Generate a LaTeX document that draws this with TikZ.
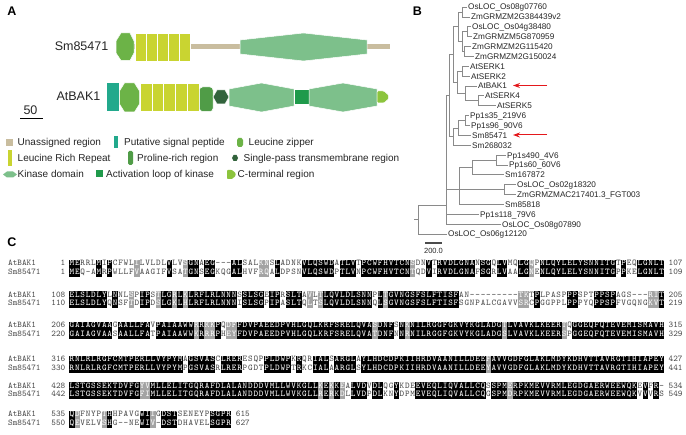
\documentclass[tikz,border=0pt]{standalone}
\usepackage{fontspec}
\setmainfont{Liberation Sans}
\usetikzlibrary{arrows.meta}

\definecolor{tanC}{HTML}{C9BD9F}
\definecolor{lrrC}{HTML}{C9D431}
\definecolor{lzC}{HTML}{6CB347}
\definecolor{kinC}{HTML}{7DC08B}
\definecolor{spC}{HTML}{22A98C}
\definecolor{proC}{HTML}{509C47}
\definecolor{tmC}{HTML}{32633C}
\definecolor{alC}{HTML}{1F9A4B}
\definecolor{ctC}{HTML}{8CC43D}
\definecolor{alnGray}{HTML}{A3A3A3}
\definecolor{alnTxt}{HTML}{4A4A4A}
\definecolor{txtC}{HTML}{262626}
\definecolor{brC}{HTML}{8A8A8A}
\definecolor{arrC}{HTML}{E4181C}

\newcommand\alnfont{\ttfamily\fontsize{8.8}{8.8}\selectfont}

\ExplSyntaxOn
\int_new:N \l__aln_class_int
\str_new:N \l__aln_a_str
\str_new:N \l__aln_b_str
\dim_new:N \l__aln_cw_dim
\dim_set:Nn \l__aln_cw_dim {5.41pt}
\clist_const:Nn \c__aln_groups_clist {ILMV,FYW,KRH,DE,NQ,ST}
\cs_new_protected:Npn \__aln_classify:nn #1#2
  {
    \int_set:Nn \l__aln_class_int {0}
    \str_if_eq:nnTF {#1} {#2}
      { \str_if_eq:nnF {#1} {-} { \int_set:Nn \l__aln_class_int {2} } }
      {
        \clist_map_inline:Nn \c__aln_groups_clist
          {
            \str_if_in:nnT {##1} {#1}
              { \str_if_in:nnT {##1} {#2} { \int_set:Nn \l__aln_class_int {1} } }
          }
      }
  }
\cs_new_protected:Npn \__aln_put:n #1
  {
    \int_case:nn { \l__aln_class_int }
      {
        {0} { \makebox[\l__aln_cw_dim]{\color{alnTxt}#1} }
        {1} { \colorbox{alnGray}{\rule[-2.4pt]{0pt}{8.6pt}\makebox[\l__aln_cw_dim]{\color{white}#1}} }
        {2} { \colorbox{black}{\rule[-2.4pt]{0pt}{8.6pt}\makebox[\l__aln_cw_dim]{\color{white}#1}} }
      }
  }
\NewDocumentCommand \alnseq { m m }
  {
    \group_begin:
    \setlength{\fboxsep}{0pt}
    \str_set:Nn \l__aln_a_str {#1}
    \str_set:Nn \l__aln_b_str {#2}
    \int_step_inline:nn { \str_count:N \l__aln_a_str }
      {
        \exp_args:Nxx \__aln_classify:nn
          { \str_item:Nn \l__aln_a_str {##1} }
          { \str_item:Nn \l__aln_b_str {##1} }
        \exp_args:Nx \__aln_put:n { \str_item:Nn \l__aln_a_str {##1} }
      }
    \group_end:
  }
\ExplSyntaxOff

\newcommand\alnblock[8]{%
  \node[aname] (an#1) at (8,#2) {AtBAK1};
  \node[anum] (as#1) at (65.5,#2) {#5};
  \node[aseq] (aq#1) at (69,#2) {\alnseq{#3}{#4}};
  \node[aend] (ae#1) at ([xshift=4pt]aq#1.base east) {#6};
  \node[aname] (bn#1) at (8,#2+8.6) {Sm85471};
  \node[anum] (bs#1) at (65.5,#2+8.6) {#7};
  \node[aseq] (bq#1) at (69,#2+8.6) {\alnseq{#4}{#3}};
  \node[aend] (be#1) at ([xshift=4pt]bq#1.base east) {#8};
}

\begin{document}
\begin{tikzpicture}[x=1pt,y=-1pt,
  panel/.style={font=\fontsize{12.5}{12.5}\selectfont\bfseries, inner sep=0pt, text=black},
  dlabel/.style={font=\fontsize{12.5}{12.5}\selectfont, text=txtC, inner sep=0pt, text height=9pt, text depth=0pt, anchor=east},
  legtext/.style={font=\fontsize{10}{10}\selectfont, text=txtC, inner sep=0pt, text height=7.2pt, text depth=0pt, anchor=west},
  leaf/.style={font=\fontsize{8.2}{8.2}\selectfont, text=txtC, inner sep=0pt, text height=5.9pt, text depth=0pt, anchor=west},
  br/.style={draw=brC, line width=0.7pt},
  dom/.style={draw=white, line width=0.5pt},
  redarr/.style={draw=arrC, line width=1pt, -{Stealth[length=7pt,width=5pt]}},
  aname/.style={font=\alnfont, text=alnTxt, inner sep=0pt, anchor=base west},
  anum/.style={font=\alnfont, text=alnTxt, inner sep=0pt, anchor=base east},
  aend/.style={font=\alnfont, text=alnTxt, inner sep=0pt, anchor=base west},
  aseq/.style={font=\alnfont, inner sep=0pt, anchor=base west},
]
\useasboundingbox[fill=white] (0,0) rectangle (686,435);

% ---------- panel labels
\node[panel] (pA) at (12,11) {A};
\node[panel] (pB) at (417.5,11) {B};
\node[panel] (pC) at (12,242.5) {C};

% ---------- panel A: domains
\node[dlabel] (lsm) at (108.5,46.5) {Sm85471};
\node[dlabel] (lat) at (100.5,96.5) {AtBAK1};

\fill[tanC] (118,44.5) rectangle (390,49.5);
\path[fill=lzC, dom] (116,41) -- (121,33) -- (130,33) -- (134,41) -- (134,53) -- (130,60.5) -- (121,60.5) -- (116,53) -- cycle;
\foreach \i in {0,...,4} \path[fill=lrrC, dom] ({135+11*\i},33) rectangle ({146+11*\i},61);
\path[fill=kinC, dom] (240,40) -- (303.5,33) -- (367,40) -- (367,54) -- (303.5,61) -- (240,54) -- cycle;

\path[fill=spC] (107,83) rectangle (119,111);
\path[fill=lzC, dom] (119.5,91) -- (124.5,83) -- (134.5,83) -- (139.5,91) -- (139.5,104) -- (134.5,112) -- (124.5,112) -- (119.5,104) -- cycle;
\foreach \i in {0,...,4} \path[fill=lrrC, dom] ({140+11.8*\i},83) rectangle ({151.8+11.8*\i},111);
\path[fill=proC, dom, rounded corners=3pt] (199.5,87) rectangle (213,111.5);
\path[fill=tmC, dom] (213,97) -- (217,90) -- (225,90) -- (229,97) -- (225,104) -- (217,104) -- cycle;
\path[fill=kinC, dom] (229,89) -- (261.5,83) -- (294,89) -- (294,106) -- (261.5,112) -- (229,106) -- cycle;
\path[fill=alC, dom] (294,89) rectangle (309,104);
\path[fill=kinC, dom] (309,89) -- (343,83) -- (377,89) -- (377,106) -- (343,112) -- (309,106) -- cycle;
\path[fill=ctC, dom, rounded corners=1pt] (377,91) -- (384,91) -- (388.5,95) -- (388.5,99) -- (384,103) -- (377,103) -- cycle;

% scale 50
\node[dlabel, anchor=center] (s50) at (30.5,110.5) {50};
\coordinate (sb1) at (20,118.5);
\coordinate (sb2) at (43,118.5);
\draw[line width=1.8pt, black] (sb1) -- (sb2);

% legend
\fill[tanC] (6,139) rectangle (13,146);
\node[legtext] (lg1) at (17.5,142) {Unassigned region};
\fill[spC] (114,136) rectangle (118,148);
\node[legtext] (lg2) at (124,142) {Putative signal peptide};
\fill[lzC] (237,140) -- (238.5,138) -- (241.5,138) -- (243,140) -- (243,145) -- (241.5,147) -- (238.5,147) -- (237,145) -- cycle;
\node[legtext] (lg3) at (248.5,142) {Leucine zipper};

\fill[lrrC] (8,150) rectangle (12,166);
\node[legtext] (lg4) at (17.5,158) {Leucine Rich Repeat};
\fill[proC, rounded corners=1.5pt] (128,151) rectangle (133,165);
\node[legtext] (lg5) at (137,158) {Proline-rich region};
\fill[tmC] (232,158) -- (233.5,155) -- (236.5,155) -- (238,158) -- (236.5,161) -- (233.5,161) -- cycle;
\node[legtext] (lg6) at (243.5,158) {Single-pass transmembrane region};

\fill[kinC] (3,174.5) -- (7,171.5) -- (13,171.5) -- (17,174.5) -- (13,177.5) -- (7,177.5) -- cycle;
\node[legtext] (lg7) at (17.5,174) {Kinase domain};
\fill[alC] (96,170.5) rectangle (102.5,177.5);
\node[legtext] (lg8) at (106,174) {Activation loop of kinase};
\fill[ctC, rounded corners=0.8pt] (227,170) -- (232,170) -- (235.5,173) -- (235.5,176) -- (232,179) -- (227,179) -- cycle;
\node[legtext] (lg9) at (237.5,174) {C-terminal region};

% ---------- panel B: tree
\node[leaf] (l1) at (468,7) {OsLOC\_Os08g07760};
\node[leaf] (l2) at (471,16.9) {ZmGRMZM2G384439v2};
\node[leaf] (l3) at (472,26.7) {OsLOC\_Os04g38480};
\node[leaf] (l4) at (473,36.6) {ZmGRMZM5G870959};
\node[leaf] (l5) at (472,46.5) {ZmGRMZM2G115420};
\node[leaf] (l6) at (475,56.4) {ZmGRMZM2G150024};
\node[leaf] (l7) at (470,66.2) {AtSERK1};
\node[leaf] (l8) at (471,76.1) {AtSERK2};
\node[leaf] (l9) at (478,86) {AtBAK1};
\node[leaf] (l10) at (485,95.8) {AtSERK4};
\node[leaf] (l11) at (497,105.7) {AtSERK5};
\node[leaf] (l12) at (470,115.6) {Pp1s35\_219V6};
\node[leaf] (l13) at (471,125.4) {Pp1s96\_90V6};
\node[leaf] (l14) at (472,135.3) {Sm85471};
\node[leaf] (l15) at (472,145.2) {Sm268032};
\node[leaf] (l16) at (507,155.1) {Pp1s490\_4V6};
\node[leaf] (l17) at (509,164.9) {Pp1s60\_60V6};
\node[leaf] (l18) at (505,174.8) {Sm167872};
\node[leaf] (l19) at (517,184.7) {OsLOC\_Os02g18320};
\node[leaf] (l20) at (517,194.5) {ZmGRMZMAC217401.3\_FGT003};
\node[leaf] (l21) at (505,204.4) {Sm85818};
\node[leaf] (l22) at (480,214.3) {Pp1s118\_79V6};
\node[leaf] (l23) at (502,224.1) {OsLOC\_Os08g07890};
\node[leaf] (l24) at (448,234) {OsLOC\_Os06g12120};

\coordinate (n12) at (462,11.95);
\coordinate (n34) at (467,31.65);
\coordinate (n56) at (464,51.45);
\coordinate (n36) at (462,41.55);
\coordinate (ngr) at (458,26.75);
\coordinate (ns12) at (462,71.15);
\coordinate (ns45) at (478,100.75);
\coordinate (nb) at (465,93.4);
\coordinate (nser) at (457,82.3);
\coordinate (nang) at (453,54.5);
\coordinate (np12) at (465,120.5);
\coordinate (np14) at (458,127.9);
\coordinate (nbr) at (453,136.6);
\coordinate (nup) at (449,95.5);
\coordinate (nm1) at (496,160);
\coordinate (nm2) at (472,167.4);
\coordinate (nm3) at (504,189.6);
\coordinate (nm) at (459,189.6);
\coordinate (np) at (446,205);
\coordinate (nroot) at (418,219.5);

\draw[br] (n12) |- ([xshift=-1pt]l1.west);
\draw[br] (n12) |- ([xshift=-1pt]l2.west);
\draw[br] (n34) |- ([xshift=-1pt]l3.west);
\draw[br] (n34) |- ([xshift=-1pt]l4.west);
\draw[br] (n56) |- ([xshift=-1pt]l5.west);
\draw[br] (n56) |- ([xshift=-1pt]l6.west);
\draw[br] (n36) |- (n34);
\draw[br] (n36) |- (n56);
\draw[br] (ngr) |- (n12);
\draw[br] (ngr) |- (n36);
\draw[br] (ns12) |- ([xshift=-1pt]l7.west);
\draw[br] (ns12) |- ([xshift=-1pt]l8.west);
\draw[br] (ns45) |- ([xshift=-1pt]l10.west);
\draw[br] (ns45) |- ([xshift=-1pt]l11.west);
\draw[br] (nb) |- ([xshift=-1pt]l9.west);
\draw[br] (nb) |- (ns45);
\draw[br] (nser) |- (ns12);
\draw[br] (nser) |- (nb);
\draw[br] (nang) |- (ngr);
\draw[br] (nang) |- (nser);
\draw[br] (np12) |- ([xshift=-1pt]l12.west);
\draw[br] (np12) |- ([xshift=-1pt]l13.west);
\draw[br] (np14) |- (np12);
\draw[br] (np14) |- ([xshift=-1pt]l14.west);
\draw[br] (nbr) |- (np14);
\draw[br] (nbr) |- ([xshift=-1pt]l15.west);
\draw[br] (nup) |- (nang);
\draw[br] (nup) |- (nbr);
\draw[br] (nm1) |- ([xshift=-1pt]l16.west);
\draw[br] (nm1) |- ([xshift=-1pt]l17.west);
\draw[br] (nm2) |- (nm1);
\draw[br] (nm2) |- ([xshift=-1pt]l18.west);
\draw[br] (nm3) |- ([xshift=-1pt]l19.west);
\draw[br] (nm3) |- ([xshift=-1pt]l20.west);
\draw[br] (nm) |- (nm2);
\draw[br] (nm) |- (nm3);
\draw[br] (nm) |- ([xshift=-1pt]l21.west);
\draw[br] (np) |- (nup);
\draw[br] (np) |- (nm);
\draw[br] (np) |- ([xshift=-1pt]l22.west);
\draw[br] (np) |- ([xshift=-1pt]l23.west);
\draw[br] (nroot) |- (np);
\draw[br] (nroot) |- ([xshift=-1pt]l24.west);
\coordinate (nstub) at (414,219.5);
\draw[br] (nroot) -- (nstub);

% tree scale
\coordinate (ts1) at (425,243);
\coordinate (ts2) at (442,243);
\draw[draw=black!70, line width=1.2pt] (ts1) -- (ts2);
\node[font=\fontsize{7.5}{7.5}\selectfont, text=txtC, inner sep=0pt] (tsl) at (433.5,251) {200.0};

% red arrows
\coordinate (ar1s) at (547,85.5);
\coordinate (ar1e) at (513,85.5);
\draw[redarr] (ar1s) -- (ar1e);
\coordinate (ar2s) at (547,135);
\coordinate (ar2e) at (513,135);
\draw[redarr] (ar2s) -- (ar2e);

% ---------- panel C: alignment
\alnblock{1}{265.9}%
 {MERRLMIPCFWLILVLDLVLVSGNAEG---ALSALKNSLADNKVLQSWDATLVTPCWFHVTCNSDNVTRVDLGNANSGQLVMQLGQPNLQYLELYSNNITGTPEQLGNLT}%
 {MEQ-AMRPWLLFVAAGIFVSATGNSEGKQGALHVFRQALDPSNVLQSWDPTLVNPCWFHVTCNTQDVIRVDLGNAFSGRLVAALGNENLQYLELYSNNITGPPKELGNLT}%
 {1}{107}{1}{109}
\alnblock{2}{297.4}%
 {ELSLDLYLNNLSPIPSTLGRLKLRFLRLNNNSSLSGEIPRSLTAVLTLQVLDLSNNPLTGVNGSFSLFTISFAN---------TKTPLPASPPPSPTPPSPAGS---RIT}%
 {ELSLDLYQNSFTDIPDSLGKLHLRFLRLNNNISLSGPIPASLTQLTSLQVLDLSNNQLSGVNGSFSLFTISFSGNPALCGAVVSRCPGGPPLPPPYQPPSPFVGQNGKVT}%
 {108}{205}{110}{219}
\alnblock{3}{327.9}%
 {GAIAGVAAGAALLFAVPAIAAWWRRKKPQDFFDVPAEEDPVHLGQLKRFSRELQVASDNFSNKNILRGGFGKVYKGLADGTLVAVKLKEERTQGGEQFQTEVEMISMAVH}%
 {GAIAGVAASAALLFATPAIAAWWKRRRPHEYFDVPAEEDPVHLGQLKRFSRELQVATDNFNNRNILRGGFGKVYKGLADGSLVAVKLKEERSPGGEQFQTEVEMISMAVH}%
 {206}{315}{220}{329}
\alnblock{4}{361.9}%
 {RNLRLRGFCMTPERLLVYPYMAGSVASCLRERESQPPLDWPKRQRIALSARGLAYLHDCDPKIIHRDVAANILLDEEFAVVGDFGLAKLMDYKDHVTTAVRGTIHIAPEY}%
 {RNLRLRGFCMTPERLLVYPYMPGSVASRLRERPGDTPLDWPTRKCIALAARGLSYLHDCDPKIIHRDVAANILLDEEYAVVGDFGLAKLMDYKDHVTTAVRGTIHIAPEY}%
 {316}{427}{330}{441}
\alnblock{5}{388.4}%
 {LSTGSSEKTDVFGYVMLLELITGQRAFDLALANDDDVMLLWVKGLLKEKKEALVDVDLQGYKDEEVEQLIQVALLCQSSPMERPKMEVVRMLEGDGAERWEEWQKEVFR-}%
 {LSTGSSEKTDVFGFIMLLELITGQRAFDLALANDDDVMLLWVKGLLRERKDLLVDPDLKNYDPMEVEQLIQVALLCQGSPMDRPKMEVVRMLEGDGAERWEEWQKVVVRS}%
 {428}{534}{442}{549}
\alnblock{6}{416.9}%
 {QDFNYPTHHPAVGWIIGDSTSENEYPSGPR}%
 {QEVELVSHG--NEWIV-DSTDHAVELSGPR}%
 {535}{615}{550}{627}
\end{tikzpicture}
\end{document}
